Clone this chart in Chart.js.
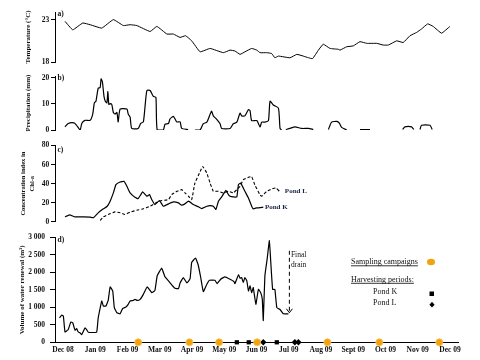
<!DOCTYPE html>
<html><head><meta charset="utf-8">
<script src="https://cdn.jsdelivr.net/npm/chart.js@4.4.0/dist/chart.umd.min.js"></script>
<style>
html,body{margin:0;padding:0;background:#fff;width:480px;height:360px;overflow:hidden;position:relative}
canvas{position:absolute;left:0}
</style></head><body>
<canvas id="ca" width="480" height="70" style="top:0px"></canvas>
<canvas id="cb" width="480" height="68" style="top:70px"></canvas>
<canvas id="cc" width="480" height="90" style="top:138px"></canvas>
<canvas id="cd" width="480" height="132" style="top:228px"></canvas>
<script>
// ---- data (x in months, 0 = Dec 08) ----
const monthLabels = ['Dec 08','Jan 09','Feb 09','Mar 09','Apr 09','May 09','Jun 09','Jul 09','Aug 09','Sept 09','Oct 09','Nov 09','Dec 09'];

const tempMonth = [0.06,0.30,0.61,0.84,1.20,1.56,1.87,2.08,2.29,2.70,2.91,3.22,3.42,3.63,3.80,3.99,4.25,4.56,4.97,5.18,5.33,5.49,5.64,5.85,6.01,6.11,6.32,6.47,6.57,6.68,7.04,7.25,7.45,7.61,7.74,7.92,8.07,8.28,8.54,8.59,8.80,9.00,9.21,9.42,9.73,9.93,10.09,10.35,10.55,10.76,10.97,11.12,11.31,11.48,11.74,12.0];
const tempValue = [22.8,21.8,22.6,22.4,22.0,23.0,22.3,22.4,22.3,21.6,22.2,21.3,21.3,20.9,21.1,20.5,19.2,19.6,19.1,19.4,19.3,18.9,19.2,19.6,19.4,19.1,19.1,19.0,18.5,18.7,18.5,18.9,18.7,18.5,18.4,19.4,20.1,19.6,19.5,19.4,19.8,19.9,20.4,20.2,20.2,20.0,20.0,20.5,20.3,21.1,21.5,21.9,22.5,22.2,21.4,22.2];

const precipMonth = [0.06,0.16,0.34,0.42,0.53,0.58,0.68,0.84,0.92,0.97,1.02,1.09,1.15,1.18,1.22,1.27,1.31,1.36,1.39,1.42,1.46,1.51,1.56,1.61,1.67,1.71,1.77,1.98,2.02,2.08,2.13,2.33,2.41,2.49,2.54,2.60,2.70,2.80,2.88,2.92,3.11,3.16,3.27,3.32,3.42,3.47,3.53,3.63,3.68,3.88,3.95,4.09,4.25,4.35,4.46,4.56,4.61,4.66,4.76,4.87,4.92,5.18,5.28,5.39,5.49,5.54,5.64,5.75,5.80,5.85,6.01,6.11,6.16,6.26,6.37,6.42,6.52,6.68,6.73,6.78,6.85,6.91,7.04,7.19,7.40,7.61,7.76,8.0,8.23,8.33,8.49,8.57,8.64,8.80,9.0,9.21,9.52,10.0,10.53,10.60,10.81,10.88,10.95,11.07,11.12,11.38,11.45];
const precipValue = [1.2,2.5,2.7,1.8,0,2.5,3.7,3.7,6.1,10.4,11,16,16.2,19.6,18.4,12.9,11,10.4,14.7,9.8,10.1,9.8,6.7,6.1,6.7,3.1,8,8,6.1,4.9,0.6,0.6,2.5,3.1,8.6,15.1,15.1,12.9,12.5,0,0,2.2,2.5,4.3,5.2,4.3,3.1,3.1,0.6,0.2,null,0,0,2.4,3,6,7.2,5.4,4.2,2.4,0.6,0.6,2.4,3,6.5,5.4,5.4,7.8,7.4,3.6,3.6,1.2,3,3,3.6,11,9.6,8.4,0.6,0,null,0.2,0.6,1.2,0.6,0.6,0.2,null,0.2,3,3.3,2.6,1,0,null,0.2,0.2,null,0.2,1.2,1.2,0.2,null,0.2,1.8,1.8,0.2];

const pondKMonth = [0.06,0.20,0.37,0.63,0.84,0.94,1.09,1.25,1.37,1.46,1.56,1.64,1.77,1.89,1.98,2.08,2.23,2.33,2.47,2.60,2.68,2.75,2.85,2.99,3.11,3.27,3.42,3.58,3.68,3.78,3.89,4.04,4.20,4.30,4.46,4.56,4.66,4.74,4.82,4.92,5.05,5.13,5.18,5.28,5.39,5.44,5.51,5.64,5.75,5.85,5.90,6.01,6.21];
const pondKValue = [5.2,7.3,5.2,5.2,4.9,4.2,9.4,13.6,16.3,21.6,30.3,39,41.7,42.4,37.2,30.3,25.7,24.3,31.3,26.8,28.5,23.3,18.1,22.3,16.3,18.8,20.9,19.8,17.4,18.8,21.6,18.1,15.7,13.9,16.3,17,16.3,12.9,21.6,26.1,33,28.5,26.8,26.1,26.1,39,40.7,32,25,16.3,13.6,14.6,15.3];
const pondLMonth = [1.15,1.25,1.40,1.61,1.77,1.92,2.08,2.29,2.49,2.70,2.91,3.06,3.27,3.37,3.53,3.68,3.78,3.89,3.99,4.09,4.23,4.33,4.46,4.56,4.66,4.82,4.97,5.13,5.28,5.39,5.49,5.59,5.75,5.85,5.95,6.11,6.16,6.32,6.47,6.60,6.71];
const pondLValue = [1.4,5.2,7.7,10.4,9.4,7.7,10.1,12.2,13.6,16.3,20.5,22.3,23.3,28.5,32,33.7,30.3,26.8,23.3,40.7,51,58,51,40.7,32,32,30.3,32,30.3,33.7,37.2,44,46.6,47.5,38.6,28.2,26.8,32,34.4,35.5,32];

const waterMonth = [-0.11,-0.04,0.01,0.06,0.16,0.24,0.30,0.37,0.42,0.47,0.53,0.58,0.63,0.68,0.73,0.78,1.04,1.09,1.20,1.25,1.33,1.40,1.46,1.54,1.59,1.67,1.77,1.85,1.95,2.02,2.08,2.18,2.23,2.30,2.39,2.49,2.61,2.75,2.85,2.92,3.06,3.16,3.27,3.37,3.47,3.58,3.63,3.73,3.84,3.94,3.99,4.11,4.19,4.27,4.35,4.46,4.54,4.71,4.78,4.89,5.02,5.18,5.30,5.33,5.44,5.49,5.54,5.59,5.64,5.70,5.75,5.80,5.85,5.90,5.98,6.06,6.13,6.18,6.21,6.26,6.33,6.40,6.44,6.50,6.57,6.63,6.73,6.83,6.99];
const waterValue = [700,780,750,297,365,580,557,346,392,297,268,220,317,412,365,288,288,700,1182,1038,1038,1200,1586,1470,990,845,816,970,1010,1085,1182,1200,1230,1200,1230,1373,1586,1422,1488,1904,2123,1875,1760,1644,1546,1537,1700,1850,1700,1820,2287,2411,2220,1855,1450,1662,1777,1777,1680,1806,1875,1806,1740,1680,1932,1835,1855,1710,1855,1760,1470,1615,1422,1566,1085,1517,1422,1230,623,1904,2383,2913,2336,1517,1517,990,940,816,816];

const samplingMonth = [2.33,3.92,4.84,6.02,8.20,9.81,11.67];
const harvestKMonth = [5.39,5.76,6.63];
const harvestLMonth = [6.21,7.19,7.30];

const drainMonth = 7.02, drainTop = 2620, drainBottom = 845;

// ---- helpers ----
const SERIF = "'Liberation Serif','Times New Roman',serif";
const TXT = '#111';
const pts = (xs, ys) => xs.map((x, i) => ({x: x, y: ys[i]}));
const onAxis = xs => xs.map(x => ({x: x, y: 0}));

function xScale(show) {
  return {
    type: 'linear', min: -0.25, max: 12.25, display: show,
    afterBuildTicks: s => { s.ticks = monthLabels.map((_, i) => ({value: i})); },
    afterFit: s => { if (show) s.height = 17.7; },
    grid: {display: false, drawTicks: false},
    border: {display: show, color: '#000', width: 1},
    ticks: {autoSkip: false, maxRotation: 0, padding: 3.5, color: TXT,
      font: {family: SERIF, size: 7.5, weight: 'bold'},
      callback: v => monthLabels[Math.round(v)] || ''}
  };
}
function yScale(o) {
  return {
    type: 'linear', min: o.min, max: o.max,
    afterFit: s => { s.width = 55; },
    afterBuildTicks: s => { s.ticks = o.ticks.map(v => ({value: v})); },
    grid: {display: true, drawOnChartArea: false, drawTicks: true, tickLength: o.tl || 4, color: '#000', lineWidth: 1},
    border: {display: true, color: '#000', width: 1},
    ticks: {padding: o.pad, color: TXT, font: {family: SERIF, size: 7.5, weight: 'bold'},
      callback: o.fmt || (v => String(v))},
    title: {display: true, text: o.title, color: TXT, padding: {top: o.tpad, bottom: 0},
      font: {family: SERIF, size: o.tsize || 7, weight: 'bold', lineHeight: o.lh || 1.2}}
  };
}
function letterPlugin(txt, dy) {
  return {id: 'letter', afterDraw(c) {
    const ctx = c.ctx, a = c.chartArea;
    ctx.save(); ctx.fillStyle = TXT; ctx.font = 'bold 7.5px ' + SERIF;
    ctx.textAlign = 'left'; ctx.textBaseline = 'middle';
    ctx.fillText(txt, a.left + 2.5, a.top + dy); ctx.restore();
  }};
}
const line = (data, extra) => Object.assign({data: data, showLine: true, borderColor: '#000', borderWidth: 1.1,
  pointRadius: 0, tension: 0.1, spanGaps: false, fill: false}, extra || {});
const base = (padTop, padBottom) => ({
  responsive: false, animation: false, devicePixelRatio: 1, events: [],
  layout: {padding: {left: 0, right: 22, top: padTop, bottom: padBottom}},
  plugins: {legend: {display: false}, tooltip: {enabled: false}}
});

// ---- a) temperature ----
new Chart(document.getElementById('ca'), {
  type: 'scatter',
  data: {datasets: [line(pts(tempMonth, tempValue), {borderWidth: 1})]},
  options: Object.assign(base(12, 8), {scales: {
    x: xScale(false),
    y: yScale({min: 18, max: 23.9, ticks: [18, 23], pad: 1.7, title: 'Temperature (°C)', tpad: 24})
  }}),
  plugins: [letterPlugin('a)', 2.5)]
});

// ---- b) precipitation ----
new Chart(document.getElementById('cb'), {
  type: 'scatter',
  data: {datasets: [line(pts(precipMonth, precipValue), {tension: 0.2, borderWidth: 1.2})]},
  options: Object.assign(base(3.5, 8), {scales: {
    x: xScale(false),
    y: yScale({min: 0, max: 20.6, ticks: [0, 10, 20], pad: 1.7, title: 'Precipitation (mm)', tpad: 24})
  }}),
  plugins: [letterPlugin('b)', 2)]
});

// ---- c) chlorophyll ----
new Chart(document.getElementById('cc'), {
  type: 'scatter',
  data: {datasets: [
    line(pts(pondKMonth, pondKValue), {borderWidth: 1.2}),
    line(pts(pondLMonth, pondLValue), {borderWidth: 1.1, borderDash: [3, 2]})
  ]},
  options: Object.assign(base(7.5, 5.7), {scales: {
    x: xScale(false),
    y: yScale({min: 0, max: 80, ticks: [0, 20, 40, 60, 80], pad: 1.7,
      title: ['Concentration index in', 'Chl-a'], tpad: 18.4, lh: 1.4, tsize: 6.5})
  }}),
  plugins: [letterPlugin('c)', 5), {id: 'pondLabels', afterDatasetsDraw(c) {
    const ctx = c.ctx, sx = c.scales.x, sy = c.scales.y;
    ctx.save(); ctx.fillStyle = '#1a2340'; ctx.font = 'bold 7px ' + SERIF;
    ctx.textAlign = 'left'; ctx.textBaseline = 'middle';
    ctx.fillText('Pond L', sx.getPixelForValue(6.88), sy.getPixelForValue(31.6));
    ctx.fillText('Pond K', sx.getPixelForValue(6.26), sy.getPixelForValue(15.2));
    ctx.restore();
  }}]
});

// ---- d) water renewal ----
new Chart(document.getElementById('cd'), {
  type: 'scatter',
  data: {datasets: [
    line(pts(waterMonth, waterValue), {borderWidth: 1.2}),
    {data: onAxis(samplingMonth), showLine: false, pointStyle: 'circle', pointRadius: 3.5,
      backgroundColor: '#F2A20F', borderColor: '#F7C04A', borderWidth: 0.8, clip: false},
    {data: onAxis(harvestKMonth), showLine: false, pointStyle: 'rect', pointRadius: 3,
      backgroundColor: '#000', borderColor: '#000', borderWidth: 0, clip: false},
    {data: onAxis(harvestLMonth), showLine: false, pointStyle: 'rectRot', pointRadius: 3.2,
      backgroundColor: '#000', borderColor: '#000', borderWidth: 0, clip: false}
  ]},
  options: Object.assign(base(9.5, 0), {scales: {
    x: xScale(true),
    y: yScale({min: 0, max: 3000, ticks: [0, 500, 1000, 1500, 2000, 2500, 3000], pad: 5, tl: 5,
      title: 'Volume of water renewal (m³)', tpad: 17.5,
      fmt: v => v >= 1000 ? Math.floor(v / 1000) + ' ' + String(v % 1000).padStart(3, '0') : String(v)})
  }}),
  plugins: [letterPlugin('d)', 2.5), {id: 'notes', afterDraw(c) {
    const ctx = c.ctx, sx = c.scales.x, sy = c.scales.y;
    ctx.save();
    // final drain arrow
    const ax = sx.getPixelForValue(drainMonth), y0 = sy.getPixelForValue(drainTop), y1 = sy.getPixelForValue(drainBottom);
    ctx.strokeStyle = '#000'; ctx.lineWidth = 1; ctx.setLineDash([4, 3]);
    ctx.beginPath(); ctx.moveTo(ax, y0); ctx.lineTo(ax, y1 - 1); ctx.stroke();
    ctx.setLineDash([]);
    ctx.beginPath(); ctx.moveTo(ax - 3, y1 - 4); ctx.lineTo(ax, y1); ctx.lineTo(ax + 3, y1 - 4); ctx.stroke();
    ctx.fillStyle = TXT; ctx.font = '7.5px ' + SERIF; ctx.textAlign = 'left'; ctx.textBaseline = 'middle';
    ctx.fillText('Final', ax + 1.5, sy.getPixelForValue(2489));
    ctx.fillText('drain', ax + 1.5, sy.getPixelForValue(2209));
    // key
    ctx.font = '8px ' + SERIF;
    const under = (t, x, y) => { ctx.fillText(t, x, y); const w = ctx.measureText(t).width;
      ctx.beginPath(); ctx.lineWidth = 0.8; ctx.moveTo(x, y + 3.8); ctx.lineTo(x + w, y + 3.8); ctx.stroke(); };
    under('Sampling campaigns', 351, 34);
    under('Harvesting periods:', 351, 51.5);
    ctx.fillText('Pond K', 373, 64.3);
    ctx.fillText('Pond L', 373, 75.3);
    ctx.fillStyle = '#F2A20F'; ctx.beginPath(); ctx.ellipse(431, 34, 4, 3.2, 0, 0, Math.PI * 2); ctx.fill();
    ctx.fillStyle = '#000'; ctx.fillRect(429.5, 63.5, 4.5, 4.5);
    ctx.beginPath(); ctx.moveTo(432, 73.8); ctx.lineTo(434.6, 76.7); ctx.lineTo(432, 79.4); ctx.lineTo(429.4, 76.7); ctx.closePath(); ctx.fill();
    ctx.restore();
  }}]
});
</script>
</body></html>
